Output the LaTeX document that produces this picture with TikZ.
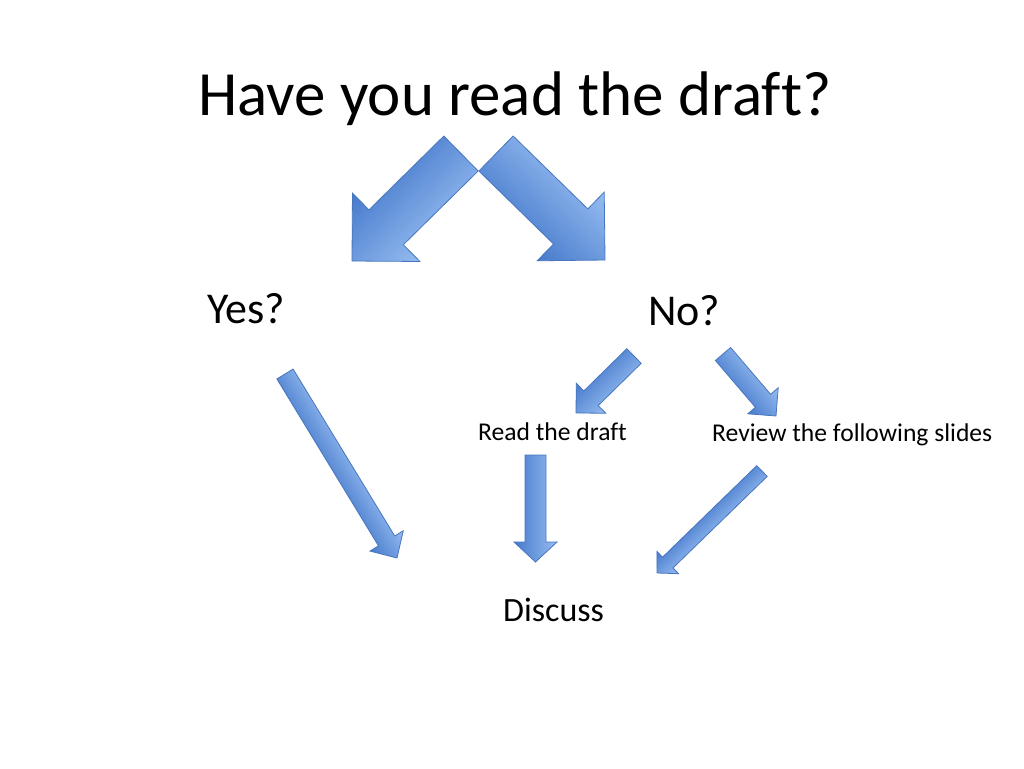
\documentclass[tikz,border=0pt]{standalone}
\usepackage{fontspec}
\setmainfont{Carlito}[Ligatures=NoCommon]
\usetikzlibrary{calc}
\definecolor{adark}{RGB}{70,122,203}
\definecolor{alight}{RGB}{150,188,241}
\definecolor{aline}{RGB}{72,118,190}
\tikzset{
  blockarrow/.style={top color=alight, bottom color=adark, draw=aline, line width=0.8pt, line join=miter},
  lbl/.style={inner sep=0pt, anchor=base west, text=black}
}
% #1 tail coordinate, #2 tip coordinate, #3 half shaft width, #4 half head width, #5 head length
\newcommand\barrow[5]{%
  \path let \p1=(#1), \p2=(#2) in \pgfextra{%
    \pgfmathsetmacro\tmpang{atan2((\y2)-(\y1),(\x2)-(\x1))}%
    \pgfmathsetmacro\tmplen{veclen((\x2)-(\x1),(\y2)-(\y1))}%
    \xdef\Aang{\tmpang}\xdef\Alen{\tmplen}};
  \begin{scope}[transform canvas={shift={(#1)}, rotate=\Aang}, x=1pt, y=1pt]
    \path[blockarrow] (0,#3) -- (\Alen-#5,#3) -- (\Alen-#5,#4) -- (\Alen,0)
      -- (\Alen-#5,-#4) -- (\Alen-#5,-#3) -- (0,-#3) -- cycle;
  \end{scope}}
\begin{document}
\begin{tikzpicture}[x=1pt, y=-1pt]
\useasboundingbox (0,0) rectangle (1024,768);
\fill[white] (0,0) rectangle (1024,768);

% texts
\node[lbl, font=\fontsize{63}{70}\selectfont] (title) at (198,115) {Have you read the draft?};
\node[lbl, font=\fontsize{44}{50}\selectfont] (yes) at (207,323) {Yes?};
\node[lbl, font=\fontsize{44}{50}\selectfont] (no) at (648,325) {No?};
\node[lbl, font=\fontsize{25.6}{30}\selectfont] (read) at (478,440) {Read the draft};
\node[lbl, font=\fontsize{25.6}{30}\selectfont] (review) at (712,441) {Review the following slides};
\node[lbl, font=\fontsize{34}{40}\selectfont] (discuss) at (503,621) {Discuss};

% arrow end points
\coordinate (a1s) at (461,153.5);  \coordinate (a1e) at (352,261);
\coordinate (a2s) at (496,153.5);  \coordinate (a2e) at (605,260);
\coordinate (a3s) at (285,374);    \coordinate (a3e) at (397,558);
\coordinate (a4s) at (634,356);    \coordinate (a4e) at (576,413);
\coordinate (a5s) at (723,354);    \coordinate (a5e) at (776,416);
\coordinate (a6s) at (535.5,455);  \coordinate (a6e) at (535.5,562);
\coordinate (a7s) at (762,471);    \coordinate (a7e) at (657,573);

\barrow{a1s}{a1e}{24.5}{48}{48}
\barrow{a2s}{a2e}{24.5}{48}{48}
\barrow{a3s}{a3e}{9.5}{19.5}{20}
\barrow{a4s}{a4e}{10.25}{21}{21}
\barrow{a5s}{a5e}{10}{20}{20}
\barrow{a6s}{a6e}{10.5}{21.5}{20}
\barrow{a7s}{a7e}{7.5}{15.5}{15}
\end{tikzpicture}
\end{document}
